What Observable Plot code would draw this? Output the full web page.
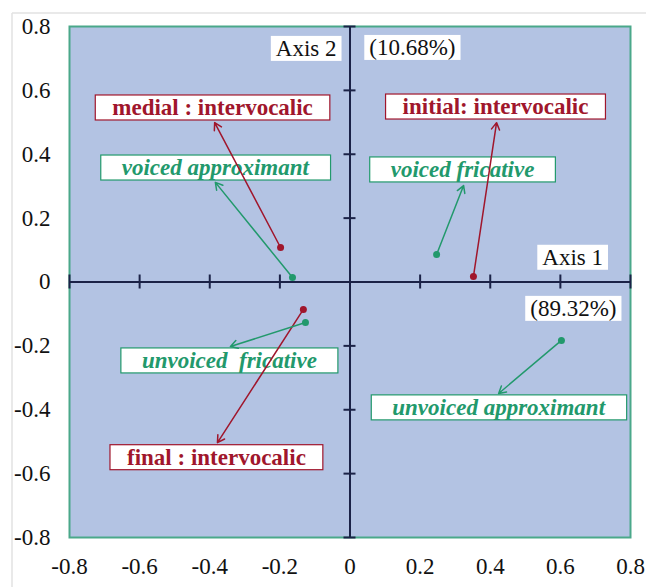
<!DOCTYPE html>
<html>
<head>
<meta charset="utf-8">
<script src="https://cdn.jsdelivr.net/npm/d3@7"></script>
<script src="https://cdn.jsdelivr.net/npm/@observablehq/plot@0.6"></script>
<style>
  html, body { margin: 0; padding: 0; background: white; font-family: "Liberation Serif", serif; }
  #chart { width: 646px; height: 587px; }
</style>
</head>
<body>
<div id="chart"></div>
<script>
// ---- data ----
const tickValues = [-0.8, -0.6, -0.4, -0.2, 0, 0.2, 0.4, 0.6, 0.8];
const categories = ["medial : intervocalic", "voiced approximant", "initial: intervocalic", "voiced fricative", "final : intervocalic", "unvoiced  fricative", "unvoiced approximant"];
const groups = ["position", "manner", "position", "manner", "position", "manner", "manner"];
const pointX = [-0.198, -0.164, 0.352, 0.247, -0.133, -0.127, 0.603];
const pointY = [0.108, 0.014, 0.017, 0.086, -0.086, -0.127, -0.183];
const arrowX = [-0.386, -0.384, 0.418, 0.324, -0.378, -0.341, 0.424];
const arrowY = [0.499, 0.312, 0.499, 0.302, -0.503, -0.202, -0.349];
const labelX = [-0.392, -0.384, 0.415, 0.321, -0.381, -0.344, 0.424];
const labelY = [0.546, 0.358, 0.549, 0.352, -0.549, -0.246, -0.393];
const axisTitles = ["Axis 2", "(10.68%)", "Axis 1", "(89.32%)"];
const axisTitleX = [-0.125, 0.178, 0.635, 0.637];
const axisTitleY = [0.731, 0.734, 0.077, -0.083];

const rows = categories.map((c, i) => ({
  name: c, group: groups[i],
  px: pointX[i], py: pointY[i], ax: arrowX[i], ay: arrowY[i], lx: labelX[i], ly: labelY[i]
}));
const titles = axisTitles.map((t, i) => ({t, x: axisTitleX[i], y: axisTitleY[i]}));

const RED = "#a0162c", GREEN = "#22996c";
const colorOf = d => d.group === "position" ? RED : GREEN;
const fmt = d => d === 0 ? "0" : d.toFixed(1);
const innerTicks = tickValues.filter(d => d !== 0);
const SERIF = "Liberation Serif";
const positionRows = rows.filter(d => d.group === "position");
const mannerRows = rows.filter(d => d.group === "manner");

const svg = Plot.plot({
  width: 646, height: 587,
  marginLeft: 69, marginRight: 16, marginTop: 26, marginBottom: 50,
  style: {background: "white", color: "black"},
  x: {domain: [-0.8, 0.8]},
  y: {domain: [-0.8, 0.8]},
  marks: [
    Plot.frame({fill: "#b3c3e3", stroke: "#4aa88a", strokeWidth: 2}),
    Plot.axisX({ticks: tickValues, tickFormat: fmt, tickSize: 0, tickPadding: 20, fontSize: 23, fontFamily: SERIF, label: null, fill: "#111"}),
    Plot.axisY({ticks: tickValues, tickFormat: fmt, tickSize: 0, tickPadding: 19, fontSize: 23, fontFamily: SERIF, label: null, fill: "#111"}),
    Plot.ruleX([0], {stroke: "#1b2247", strokeWidth: 2}),
    Plot.ruleY([0], {stroke: "#1b2247", strokeWidth: 2}),
    Plot.ruleX(innerTicks, {x: d => d, y1: 0, y2: 0, insetTop: -7, insetBottom: -7, stroke: "#1b2247", strokeWidth: 2}),
    Plot.ruleY(innerTicks, {y: d => d, x1: 0, x2: 0, insetLeft: -6, insetRight: -6, stroke: "#1b2247", strokeWidth: 2}),
    Plot.text(titles, {x: "x", y: "y", text: "t", fontSize: 23, fontFamily: SERIF, fill: "#111", className: "axtitle"}),
    Plot.text(positionRows, {x: "lx", y: "ly", text: "name", fontSize: 23, fontWeight: "bold", fontFamily: SERIF,
      fill: RED, className: "poslabel"}),
    Plot.text(mannerRows, {x: "lx", y: "ly", text: "name", fontSize: 23, fontWeight: "bold", fontStyle: "italic", fontFamily: SERIF,
      fill: GREEN, className: "manlabel"}),
    Plot.arrow(rows, {x1: "px", y1: "py", x2: "ax", y2: "ay", stroke: colorOf, strokeWidth: 1.5, headLength: 8}),
    Plot.dot(rows, {x: "px", y: "py", r: 3.5, fill: colorOf, stroke: "none"})
  ]
});

// force the serif face on every text element
d3.select(svg).attr("font-family", SERIF);
d3.select(svg).selectAll("g").filter(function() { return this.hasAttribute("font-family"); }).attr("font-family", SERIF);
d3.select(svg).selectAll("text").attr("font-family", SERIF);

document.getElementById("chart").appendChild(svg);

// white boxes behind the labels, sized from the rendered text
function boxes(cls, padX, padY, stroked) {
  d3.select(svg).selectAll(`g.${cls} text`).each(function() {
    const t = this;
    t.style.whiteSpace = "pre";
    const b = t.getBBox();
    const r = document.createElementNS("http://www.w3.org/2000/svg", "rect");
    r.setAttribute("x", b.x - padX);
    r.setAttribute("y", b.y - padY);
    r.setAttribute("width", b.width + 2 * padX);
    r.setAttribute("height", b.height + 2 * padY);
    r.setAttribute("fill", "white");
    const fill = t.getAttribute("fill") || t.parentNode.getAttribute("fill");
    r.setAttribute("stroke", stroked ? fill : "none");
    r.setAttribute("stroke-width", 1.2);
    if (t.getAttribute("transform")) r.setAttribute("transform", t.getAttribute("transform"));
    t.parentNode.insertBefore(r, t);
  });
}
boxes("axtitle", 5, 0, false);
boxes("poslabel", 17, 0, true);
boxes("manlabel", 21, 0, true);

// light grey edge of the original figure
const sel = d3.select(svg);
sel.append("line").attr("x1", 12).attr("x2", 646).attr("y1", 13).attr("y2", 13).attr("stroke", "#e2e2e2").attr("stroke-width", 1.5);
sel.append("line").attr("x1", 12).attr("x2", 12).attr("y1", 13).attr("y2", 587).attr("stroke", "#e2e2e2").attr("stroke-width", 1.5);
</script>
</body>
</html>
